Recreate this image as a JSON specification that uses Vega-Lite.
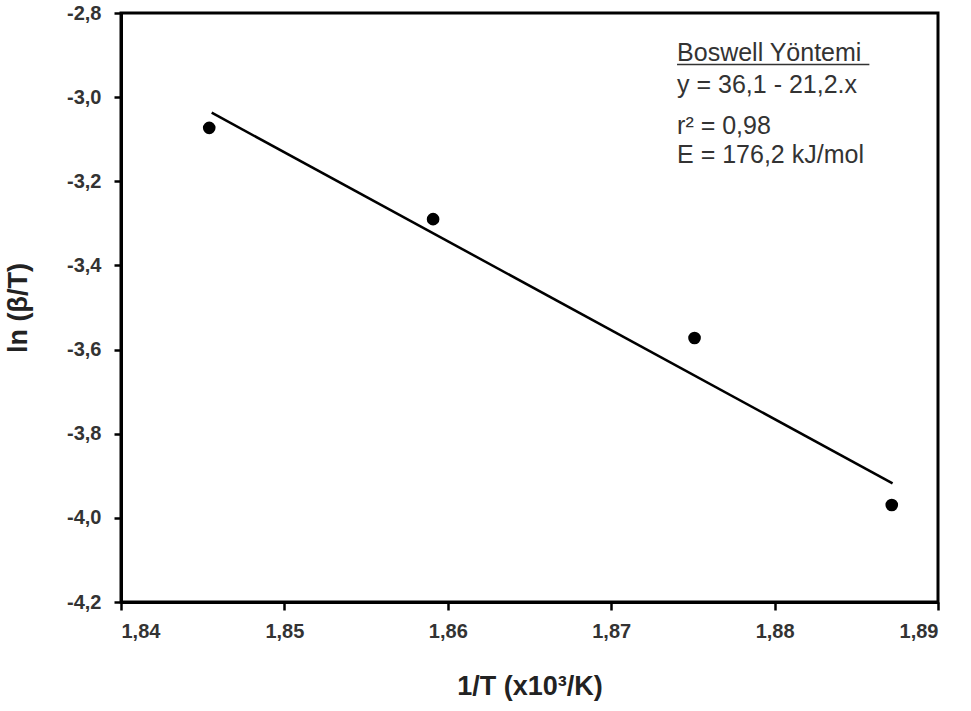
{
  "$schema": "https://vega.github.io/schema/vega-lite/v6.json",
  "width": 817,
  "height": 589,
  "autosize": "none",
  "padding": {"left": 121, "top": 13, "right": 33, "bottom": 109},
  "background": "white",
  "datasets": {
    "points": [
      {"x": 1.8454, "y": -3.073},
      {"x": 1.8591, "y": -3.290},
      {"x": 1.8751, "y": -3.5725},
      {"x": 1.88717, "y": -3.9695}
    ],
    "fit": [
      {"x": 1.84555, "y": -3.037},
      {"x": 1.88722, "y": -3.918}
    ],
    "notes": [
      {"x": 1.87403, "y": -2.914, "label": "Boswell Yöntemi"},
      {"x": 1.87403, "y": -2.990, "label": "y = 36,1 - 21,2.x"},
      {"x": 1.87403, "y": -3.0876, "label": "r² = 0,98"},
      {"x": 1.87403, "y": -3.1566, "label": "E = 176,2 kJ/mol"}
    ],
    "underline": [
      {"x": 1.87403, "x2": 1.8858, "y": -2.9224}
    ]
  },
  "config": {
    "view": {"stroke": "black", "strokeWidth": 3},
    "font": "Liberation Sans",
    "axis": {
      "grid": false,
      "domain": true,
      "domainColor": "black",
      "domainWidth": 3,
      "tickColor": "black",
      "tickWidth": 2.5,
      "labelFont": "Liberation Sans",
      "labelFontWeight": "bold",
      "labelFontSize": 20,
      "labelColor": "#333333",
      "titleFont": "Liberation Sans",
      "titleFontWeight": "bold",
      "titleFontSize": 27,
      "titleColor": "#222222"
    }
  },
  "layer": [
    {
      "data": {"name": "fit"},
      "mark": {"type": "line", "color": "black", "strokeWidth": 2.5},
      "encoding": {
        "x": {
          "field": "x", "type": "quantitative",
          "scale": {"domain": [1.84, 1.89], "nice": false, "zero": false},
          "axis": {
            "title": "1/T (x10³/K)",
            "values": [1.84, 1.85, 1.86, 1.87, 1.88, 1.89],
            "labelExpr": "replace(format(datum.value, '.2f'), '.', ',')",
            "tickSize": 8,
            "labelPadding": 11,
            "titlePadding": 32
          }
        },
        "y": {
          "field": "y", "type": "quantitative",
          "scale": {"domain": [-4.2, -2.8], "nice": false, "zero": false},
          "axis": {
            "title": "ln (β/T)",
            "values": [-4.2, -4.0, -3.8, -3.6, -3.4, -3.2, -3.0, -2.8],
            "labelExpr": "replace(replace(format(datum.value, '.1f'), '.', ','), '−', '-')",
            "tickSize": 7,
            "labelPadding": 13,
            "titlePadding": 34
          }
        }
      }
    },
    {
      "data": {"name": "points"},
      "mark": {"type": "point", "shape": "circle", "filled": true, "color": "black", "size": 160, "opacity": 1},
      "encoding": {
        "x": {"field": "x", "type": "quantitative"},
        "y": {"field": "y", "type": "quantitative"}
      }
    },
    {
      "data": {"name": "notes"},
      "mark": {"type": "text", "align": "left", "baseline": "alphabetic", "fontSize": 25, "color": "#333333", "font": "Liberation Sans"},
      "encoding": {
        "x": {"field": "x", "type": "quantitative"},
        "y": {"field": "y", "type": "quantitative"},
        "text": {"field": "label"}
      }
    },
    {
      "data": {"name": "underline"},
      "mark": {"type": "rule", "color": "#333333", "strokeWidth": 1.5},
      "encoding": {
        "x": {"field": "x", "type": "quantitative"},
        "x2": {"field": "x2"},
        "y": {"field": "y", "type": "quantitative"}
      }
    }
  ]
}
